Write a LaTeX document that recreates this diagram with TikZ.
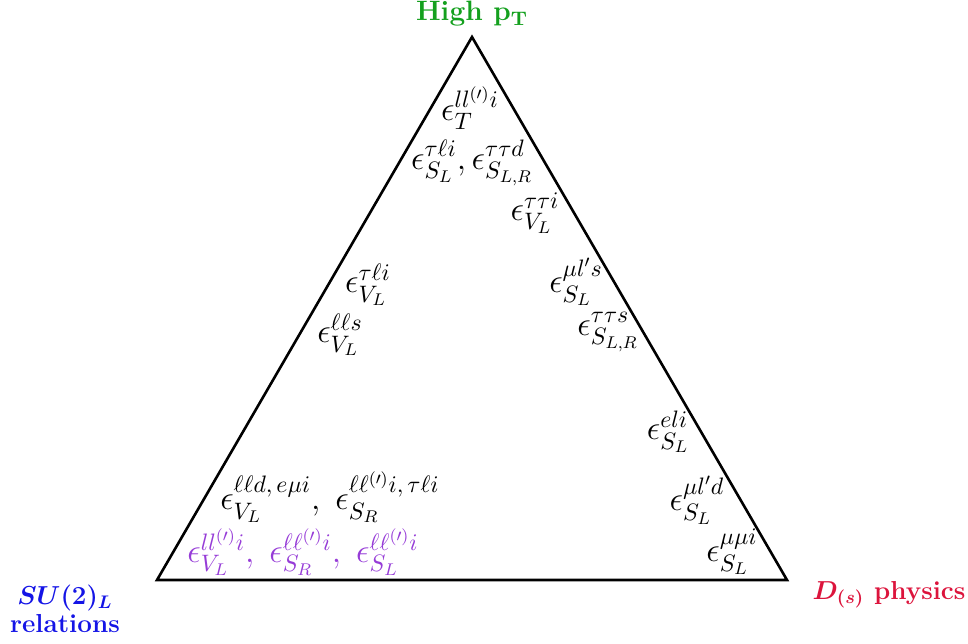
\RequirePackage{fix-cm}
\documentclass[tikz,border=0pt]{standalone}
\usepackage{amsmath,amssymb}
\usepackage{tikz}
\usetikzlibrary{positioning}
\definecolor{hpt}{RGB}{20,160,30}
\definecolor{sul}{RGB}{20,20,230}
\definecolor{dsp}{RGB}{220,20,60}
\definecolor{pur}{RGB}{150,60,215}
\tikzset{
  tri/.style={draw=black, line width=1.3pt, line join=miter},
  lab/.style={font=\fontsize{17}{20}\selectfont, inner sep=0pt},
  hd/.style={font=\fontsize{13}{15}\selectfont\bfseries, inner sep=0pt, align=center}
}
\begin{document}
\begin{tikzpicture}[x=0.5pt, y=-0.5pt]
\useasboundingbox (0,0) rectangle (968,643);
% ---- corners of the triangle ----
\coordinate (top) at (472,37);
\coordinate (bl) at (157,580);
\coordinate (br) at (787,580);
\draw[tri] (top) -- (bl) -- (br) -- cycle;
% ---- corner headings ----
\node[hd, text=hpt, above=5pt of top, font=\fontsize{14}{16}\selectfont\bfseries] (hipt) {High $\mathbf{p_T}$};
\node[hd, text=sul] (su2) at (65,609) {{\boldmath $SU(2)_L$}\\[-1pt]relations};
\node[hd, text=dsp] (dsp) at (889,595) {{\boldmath $D_{(s)}$} physics};
% ---- couplings near the top ----
\node[lab] (eT) at (470,108) {$\epsilon_T^{ll^{(\prime)}i}$};
\node[lab] (eSLtt) at (472,163) {$\epsilon_{S_L}^{\tau\ell i},\epsilon_{S_{L,R}}^{\tau\tau d}$};
\node[lab] (eVtt) at (535,213) {$\epsilon_{V_L}^{\tau\tau i}$};
% ---- left edge ----
\node[lab] (eVtl) at (368,285) {$\epsilon_{V_L}^{\tau\ell i}$};
\node[lab] (eVlls) at (340,335) {$\epsilon_{V_L}^{\ell\ell s}$};
% ---- right edge ----
\node[lab] (eSmls) at (576,282) {$\epsilon_{S_L}^{\mu l's}$};
\node[lab] (eSmtts) at (608,332) {$\epsilon_{S_{L,R}}^{\tau\tau s}$};
\node[lab] (eSeli) at (668,432) {$\epsilon_{S_L}^{eli}$};
\node[lab] (eSmld) at (697,500) {$\epsilon_{S_L}^{\mu l'd}$};
\node[lab] (eSmmi) at (732,552) {$\epsilon_{S_L}^{\mu\mu i}$};
% ---- bottom left ----
\node[lab] (eVll) at (330,497)
  {$\epsilon_{V_L}^{\ell\ell d,\,e\mu i},\;\epsilon_{S_R}^{\ell\ell^{(\prime)}i,\,\tau\ell i}$};
\node[lab, text=pur] (eall) at (303,552)
  {$\epsilon_{V_L}^{ll^{(\prime)}i},\;\epsilon_{S_R}^{\ell\ell^{(\prime)}i},\;\epsilon_{S_L}^{\ell\ell^{(\prime)}i}$};
\end{tikzpicture}
\end{document}
